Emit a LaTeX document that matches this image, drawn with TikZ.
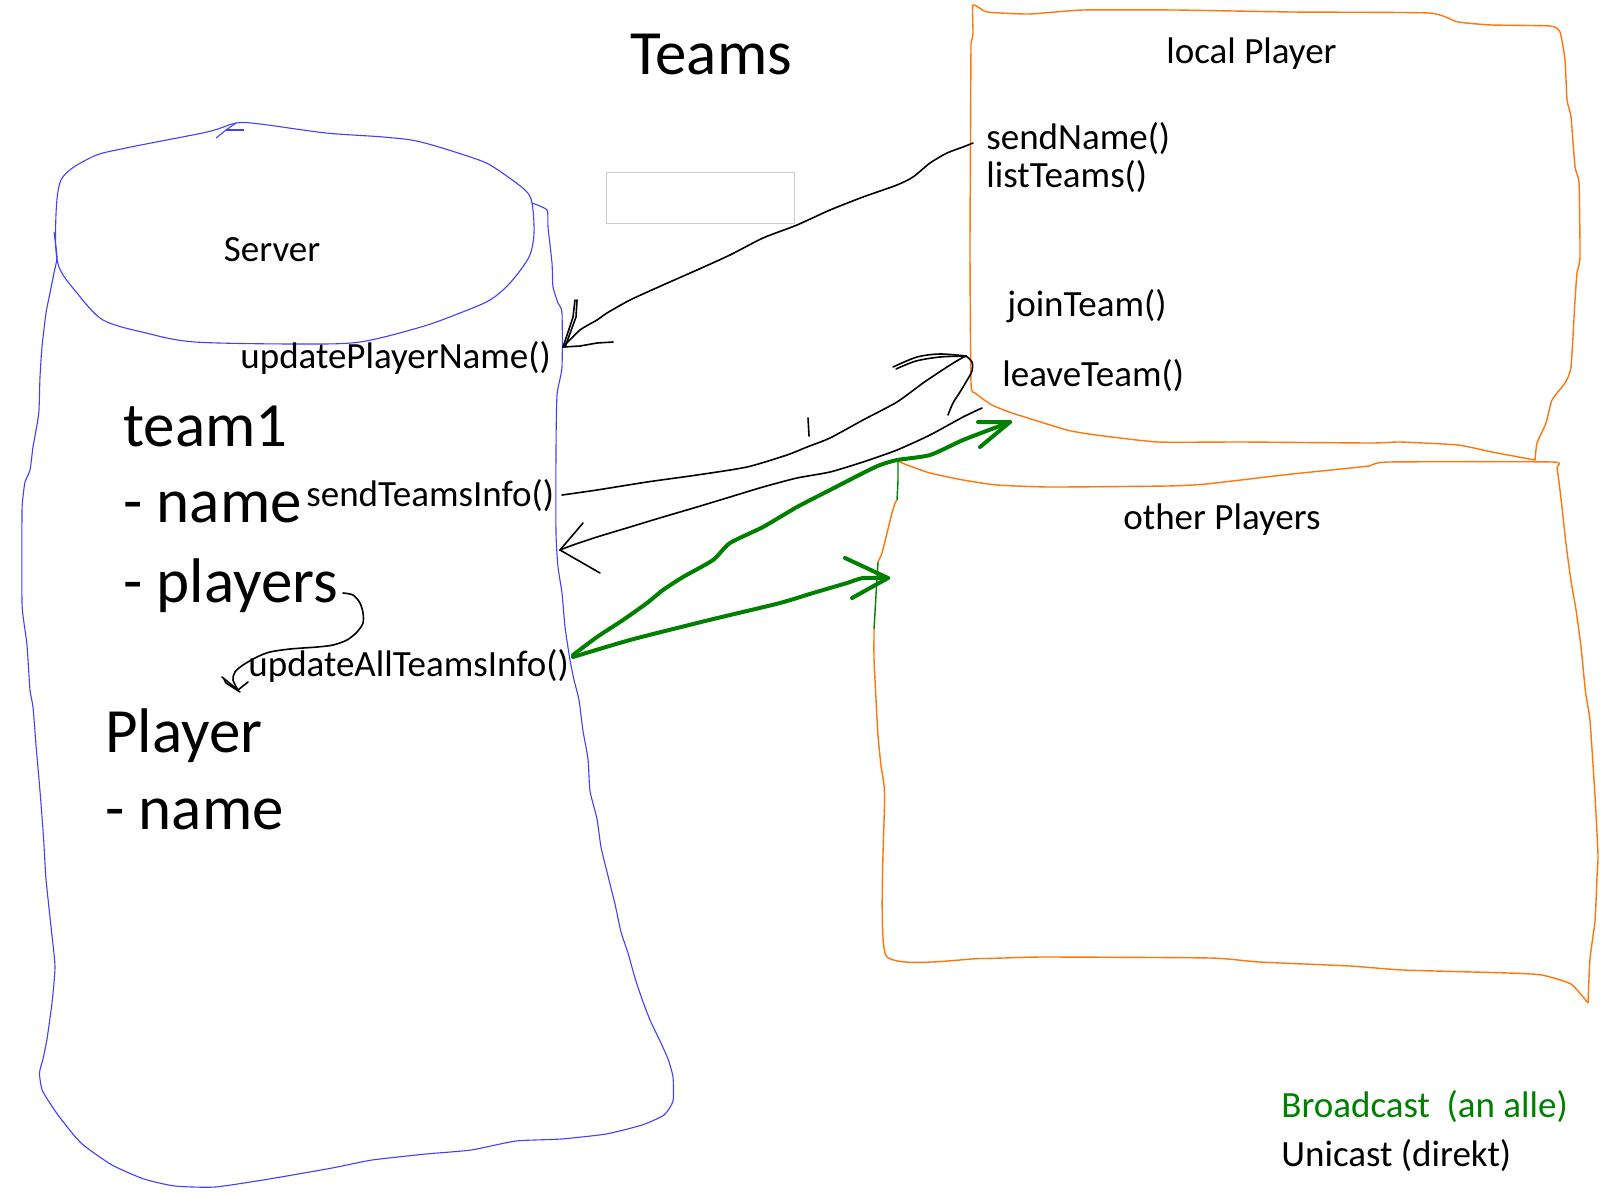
\documentclass[tikz,border=0pt]{standalone}
\usepackage{fontspec}
\setmainfont{Carlito}
\definecolor{srvblue}{RGB}{64,64,255}
\definecolor{plorange}{RGB}{255,118,10}
\definecolor{bcgreen}{RGB}{0,128,0}
\definecolor{boxgray}{RGB}{205,205,205}
\tikzset{
  txt/.style={inner sep=0pt, anchor=base west, font=\fontsize{18.5}{22}\selectfont},
  bigtxt/.style={inner sep=0pt, anchor=base west, font=\fontsize{31.5}{36}\selectfont},
  srvline/.style={draw=srvblue, line width=0.55pt, line join=round},
  orline/.style={draw=plorange, line width=0.7pt, line join=round},
  orgreen/.style={draw=bcgreen, line width=0.7pt},
  pen/.style={draw=black, line width=0.8pt, line join=round, line cap=round},
  gpen/.style={draw=bcgreen, line width=2pt, line join=round, line cap=round},
}
\begin{document}
\begin{tikzpicture}[x=0.5pt,y=-0.5pt]
\useasboundingbox[fill=white] (0,0) rectangle (1600,1200);

% ---------- Server cylinder ----------
\draw[srvline] plot[smooth cycle, tension=0.5] coordinates {
 (55.5,233) (61,180) (92,157) (126,148) (207,132) (236,123) (260,124)
 (326,133) (383,137) (421,142) (479,160) (498,170) (525,190) (532,203)
 (534,233) (529,257) (510,283) (490,300) (460,313) (421,327) (360,342)
 (299,344) (195,342) (146,333) (103,320) (77,293) (59,267)};
\draw[srvline] (216,138) -- (226,130) -- (236,123);
\draw[srvline] (226,130) -- (244,130);
\draw[srvline] plot[smooth, tension=0.35] coordinates {
 (54,232) (57,257) (54,273) (50,293) (46,313) (42,347) (40,377) (39,410)
 (37,425) (33,447) (30,470) (25,482) (23,497) (22,512) (22,602) (24,623)
 (27,645) (30,690) (33,707) (36,745) (40,791) (43.5,837) (46,879)
 (51.6,932) (55,967) (52,1003) (47,1039) (43,1059) (39.5,1073) (42.6,1091)
 (58,1115) (81,1143) (112,1165) (144,1179) (175,1186) (215,1187) (269,1179)
 (332,1168) (372,1160) (426,1154) (471,1150) (516,1141) (561,1139)
 (606,1134) (642,1125) (664,1115) (673,1101) (673,1077) (668,1059)
 (660,1041) (650,1020) (642,999) (635,978) (628,953) (621,932) (615,904)
 (608,876) (601,847) (597,819) (590,791) (588,759) (583,731) (579,700)
 (574,680) (570,660) (565,627) (562,593) (558,567) (556,533) (556,450)
 (557,395) (562,367) (562,313) (558,303) (553,287) (552,263) (548,227)
 (547,210) (532,203)};

% ---------- gray empty box ----------
\node[draw=boxgray, line width=0.5pt, minimum width=94pt, minimum height=25.5pt,
      inner sep=0pt, anchor=north west] (emptybox) at (606,172) {};

% ---------- local Player box ----------
\draw[orline] plot[smooth, tension=0.3] coordinates {
 (971,43) (973,33) (973,5) (987,12) (1029,14) (1083,10) (1175,10) (1292,12)
 (1429,13) (1458,22) (1492,25) (1550,26) (1560,32) (1565,60) (1567,100)
 (1571,117) (1575,167) (1579,183) (1580,257) (1577,273) (1575,300)
 (1571,367) (1565,383) (1552,400) (1546,423) (1537,443) (1535,460)};
\draw[orline] plot[smooth, tension=0.3] coordinates {
 (1535,460) (1492,452) (1458,445) (1400,442) (1371,443) (1242,442)
 (1158,442) (1096,435) (1067,430) (1012,413) (992,405) (975,393)
 (971,383) (970,247) (971,43)};

% ---------- other Players box ----------
\draw[orline] plot[smooth, tension=0.3] coordinates {
 (898,461) (907,465) (930,473) (963,480) (997,485) (1050,487) (1167,486)
 (1206,484) (1283,475) (1331,470) (1369,466) (1388,462) (1552,462)
 (1557,468) (1561.5,503) (1566,544) (1571,581) (1576,610) (1581,647)
 (1585.5,692) (1590,721) (1595,796) (1598,855) (1597,877) (1595,921)
 (1590,958.5) (1588,1003)};
\draw[orline] plot[smooth, tension=0.3] coordinates {
 (1588,1003) (1571,984) (1542,975) (1509,973) (1403,970) (1350,966)
 (1259,962) (1211,958) (1042,957) (980,958.5) (886,955.5) (884.6,795.5)
 (881,766) (878,736) (876,699) (874,658.5) (874,629)};
\draw[orgreen] (874,629) -- (876,595) -- (878,562);
\draw[orline] plot[smooth, tension=0.3] coordinates {
 (878,562) (882,553) (887,533) (892,513) (895,503) (897,500)};
\draw[orgreen] (897,500) -- (898,480) -- (898,461);

% ---------- texts ----------
\node[bigtxt] (title) at (630,74.5) {Teams};
\node[txt] (lp) at (1166,63) {local Player};
\node[txt] (sn) at (986,149) {sendName()};
\node[txt] (lt) at (986,187.5) {listTeams()};
\node[txt] (jt) at (1007,316) {joinTeam()};
\node[txt] (lv) at (1002,386) {leaveTeam()};
\node[txt] (op) at (1123,529) {other Players};
\node[txt] (srv) at (223.5,261) {Server};
\node[txt] (upn) at (240,368) {updatePlayerName()};
\node[bigtxt] (t1) at (123,446) {team1};
\node[bigtxt] (t1n) at (123,522.5) {- name};
\node[txt] (sti) at (306,506) {sendTeamsInfo()};
\node[bigtxt] (t1p) at (123,602) {- players};
\node[txt] (uat) at (248,676.5) {updateAllTeamsInfo()};
\node[bigtxt] (pl) at (105,752) {Player};
\node[bigtxt] (pln) at (105,829.5) {- name};
\node[txt, text=bcgreen] (bc) at (1281,1117) {Broadcast\ \ (an alle)};
\node[txt] (uc) at (1281,1166) {Unicast (direkt)};

% ---------- black (unicast) connectors ----------
\coordinate (a1s) at (973,143);
\coordinate (a1e) at (563,347);
\draw[pen] plot[smooth, tension=0.4] coordinates {
 (a1s) (963,147) (947,153) (930,163) (913,177) (897,185) (863,197) (830,210)
 (797,225) (763,238) (730,255) (697,270) (663,285) (630,300) (607,313)
 (597,320) (580,330) (a1e)};
\draw[pen] (a1e) -- (573,317) -- (575,300);
\draw[pen] (565,347) -- (576,317) -- (577,300);
\draw[pen] (a1e) -- (580,346) -- (597,343) -- (613,342);

\coordinate (a2s) at (562,495);
\coordinate (a2e) at (966,356);
\draw[pen] plot[smooth, tension=0.4] coordinates {
 (a2s) (597,490) (647,482) (697,475) (747,467) (787,455) (807,447)
 (830,438) (863,420) (897,402) (923,383) (947,367) (960,359) (a2e)};
\draw[pen] plot[smooth, tension=0.5] coordinates {
 (a2e) (972,362) (972,371) (966,382) (960,392) (953,403) (948,415)};
\draw[pen] plot[smooth, tension=0.5] coordinates {
 (a2e) (940,354) (917,357) (893,367)};
\draw[pen] plot[smooth, tension=0.5] coordinates {
 (a2e) (940,357) (916,361) (896,369)};
\draw[pen] (808,418) -- (809,436);

\coordinate (a3s) at (982,408);
\coordinate (a3e) at (560,550);
\draw[pen] plot[smooth, tension=0.4] coordinates {
 (a3s) (963,417) (930,435) (897,450) (863,462) (830,472) (797,478)
 (763,487) (730,497) (697,507) (663,517) (630,527) (597,537) (573,545)
 (a3e)};
\draw[pen] (a3e) -- (583,523);
\draw[pen] (a3e) -- (600,573);

% squiggle from "- players" to updateAllTeamsInfo()
\coordinate (sqs) at (343,593);
\coordinate (sqe) at (238,690);
\draw[pen] plot[smooth, tension=0.5] coordinates {
 (sqs) (353,595) (360,603) (363,613) (363,623) (357,632) (347,640)
 (333,645) (317,647) (290,649) (270,652) (257,657) (243,665) (235,672)
 (233,680) (sqe)};
\draw[pen] (sqe) -- (222,677);
\draw[pen] (240,692) -- (226,683) -- (224,679);
\draw[pen] (sqe) -- (248,682);

% ---------- green (broadcast) connectors ----------
\coordinate (g1s) at (573,655);
\coordinate (g1e) at (1010,422);
\draw[gpen] plot[smooth, tension=0.4] coordinates {
 (g1s) (597,637) (623,620) (647,603) (663,590) (683,577) (713,560)
 (730,543) (763,527) (797,507) (830,490) (863,473) (880,465) (897,460)
 (930,455) (963,440) (997,427) (g1e)};
\draw[gpen] (978,422) -- (g1e) -- (980,447);

\coordinate (g2s) at (573,657);
\coordinate (g2e) at (888,578);
\draw[gpen] plot[smooth, tension=0.4] coordinates {
 (g2s) (630,640) (697,623) (730,615) (780,603) (813,593) (847,583)
 (863,578) (g2e)};
\draw[gpen] (845,558) -- (g2e) -- (852,598);
\end{tikzpicture}
\end{document}
